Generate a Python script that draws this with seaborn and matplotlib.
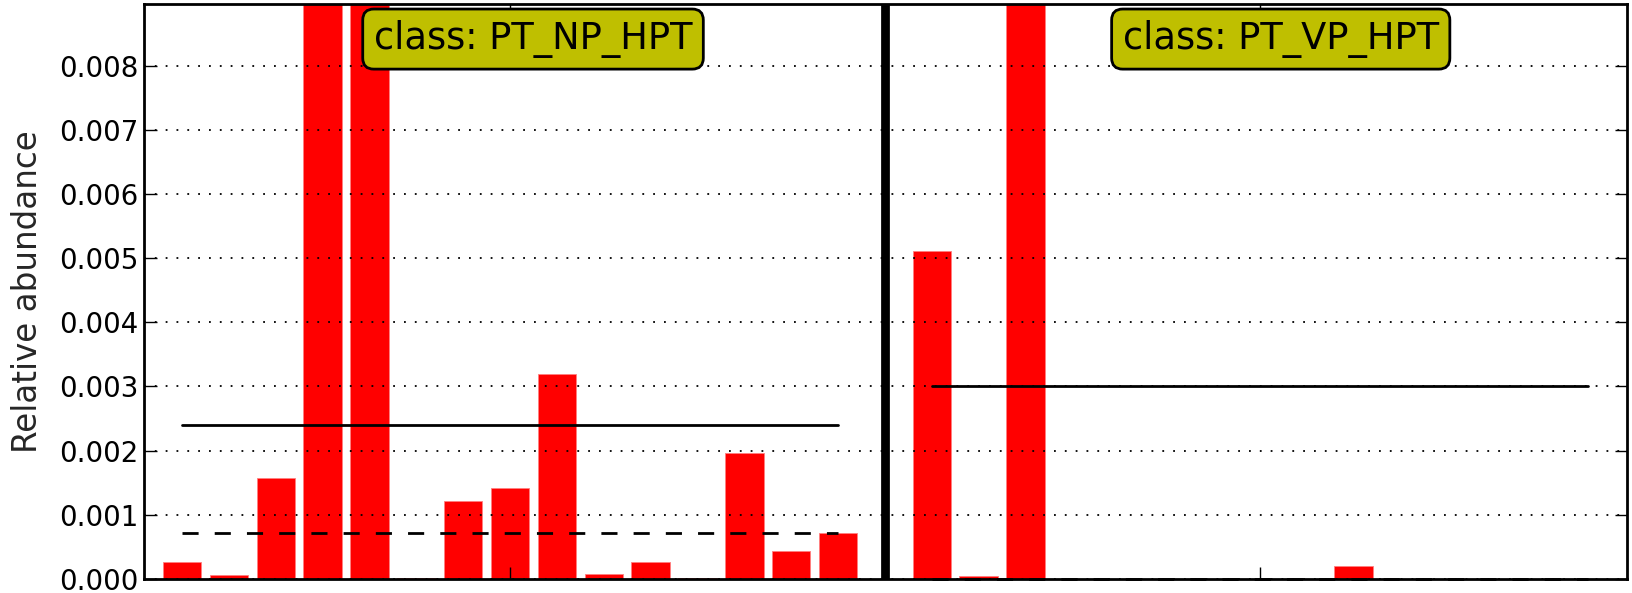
import numpy as np
import pandas as pd
import matplotlib
matplotlib.use("Agg")
import matplotlib.pyplot as plt
import seaborn as sns

sns.set_theme(style="white")
plt.rcParams['font.family'] = ['DejaVu Sans']

classes = ["PT_NP_HPT", "PT_VP_HPT"]
np_hpt_values = [0.000266, 0.0000625, 0.00157, 0.0128, 0.0120, 0.00001, 0.00121,
                 0.00142, 0.0032, 0.000078, 0.00026, 0.00001, 0.00197, 0.00044, 0.000713]
vp_hpt_values = [0.00511, 0.000042, 0.0397, 0.0, 0.0, 0.0, 0.0, 0.0, 0.0,
                 0.000198, 0.0, 0.0, 0.0, 0.0, 0.0]
y_ticks = [0.000, 0.001, 0.002, 0.003, 0.004, 0.005, 0.006, 0.007, 0.008]

n1, n2 = len(np_hpt_values), len(vp_hpt_values)
pos1 = np.arange(n1)
pos2 = np.arange(n2) + n1 + 1
df = pd.DataFrame({
    "pos": np.concatenate([pos1, pos2]),
    "val": np.concatenate([np_hpt_values, vp_hpt_values]),
    "cls": [classes[0]] * n1 + [classes[1]] * n2,
})

fig = plt.figure(figsize=(16.33, 5.93), dpi=100)
ax = fig.add_axes([0.088, 0.0236, 0.9083, 0.9697])

sns.barplot(data=df, x="pos", y="val", native_scale=True, width=0.82,
            color="#ff0000", saturation=1, edgecolor="#ff8080", linewidth=0.6,
            ax=ax, zorder=2)

# separator
ax.axvline(n1, color="black", lw=6.3, zorder=4)

# mean and median lines
for pos, vals in [(pos1, np_hpt_values), (pos2, vp_hpt_values)]:
    ax.plot([pos[0], pos[-1]], [np.mean(vals)] * 2, color="black", lw=2, zorder=3)
    ax.plot([pos[0], pos[-1]], [np.median(vals)] * 2, color="black", lw=2,
            ls=(0, (5.8, 5.8)), zorder=3, clip_on=False)

ymax = 0.00896
ax.set_xlim(-0.82, pos2[-1] + 0.84)
ax.set_ylim(0, ymax)
ax.set_yticks(y_ticks)
ax.set_yticklabels([f"{t:.3f}" for t in y_ticks], fontsize=19.9)
ax.set_xticks([pos1[len(pos1) // 2], pos2[len(pos2) // 2]])
ax.set_xticklabels([])
ax.set_xlabel("")
ax.set_ylabel("Relative abundance", fontsize=23.5, labelpad=11)
ax.yaxis.grid(True, linestyle=(0, (1, 5)), color="black", lw=1.3)
ax.xaxis.grid(False)
ax.set_axisbelow(False)
for gl in ax.get_ygridlines():
    gl.set_zorder(1.5)
ax.tick_params(axis="both", direction="in", length=9, width=1, colors="black",
               left=True, right=True, top=True, bottom=True)
for s in ax.spines.values():
    s.set_visible(True)
    s.set_color("black")
    s.set_linewidth(2)

for cx, c in [(7.49, classes[0]), (23.45, classes[1])]:
    ax.text(cx, ymax * 0.972, "class: " + c, ha="center", va="top", fontsize=26.5,
            color="black", zorder=5,
            bbox=dict(boxstyle="round,pad=0.3", facecolor=(0.75, 0.75, 0), edgecolor="black", lw=2))

fig.savefig("out.png", dpi=100)
